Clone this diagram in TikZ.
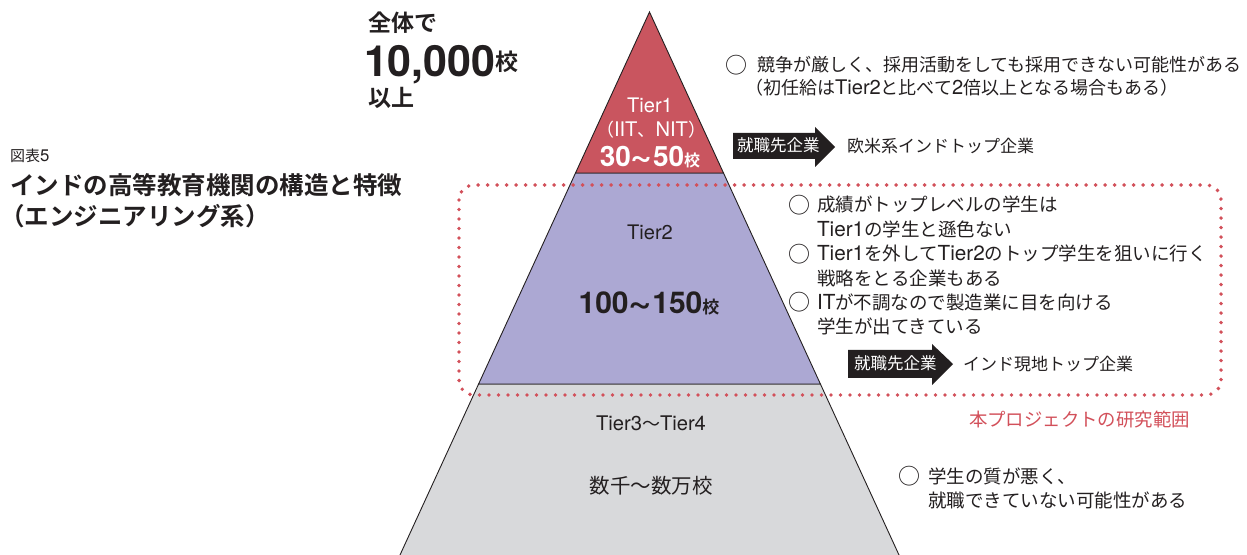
\documentclass[tikz,border=0pt]{standalone}
\usepackage{fontspec}
\usepackage{graphicx}
\setmainfont{Noto Sans CJK JP}[BoldFont={Noto Sans CJK JP Bold}]
\newfontfamily\lat{TeX Gyre Heros}[Scale=1.12]
\newcommand\fsz[1]{\fontsize{#1bp}{#1bp}\selectfont}
\newcommand\bigtilde{\raisebox{-0.02em}{\scalebox{1.35}[1.25]{\textasciitilde}}}
\definecolor{ink}{HTML}{231F20}
\definecolor{tierA}{HTML}{C9555F}
\definecolor{tierB}{HTML}{ACA8D3}
\definecolor{tierC}{HTML}{D8D9DB}
\definecolor{dotred}{HTML}{D2505A}
\begin{document}
\begin{tikzpicture}[x=1bp,y=-1bp,
 txt/.style={inner sep=0pt,outer sep=0pt,anchor=base west,text=ink},
 ctxt/.style={inner sep=0pt,outer sep=0pt,anchor=base,text=ink},
 tieredge/.style={draw=ink,line width=0.9bp,line join=miter},
 scopebox/.style={draw=dotred,line width=3.9bp,line cap=round,dash pattern=on 0pt off 9.5bp,rounded corners=15bp},
 badge/.style={fill=ink},
 badgetxt/.style={inner sep=0pt,outer sep=0pt,anchor=base west,text=white}]
\useasboundingbox (0,0) rectangle (1247,555);
% pyramid
\begin{scope}
\clip (0,0) rectangle (1247,555);
\filldraw[tieredge,fill=tierC] (478.6,384) -- (820.4,384) -- (903.6,565) -- (395.4,565) -- cycle;
\filldraw[tieredge,fill=tierB] (575.5,173) -- (723.5,173) -- (820.4,384) -- (478.6,384) -- cycle;
\filldraw[tieredge,fill=tierA] (649.5,12) -- (723.5,173) -- (575.5,173) -- cycle;
\end{scope}
% research scope
\draw[scopebox] (459,185) rectangle (1221,395);
% tier labels
\node[ctxt,text=white] (t1name) at (650,113) {\lat\fsz{17.9}Tier1};
\node[ctxt,text=white] (t1inst) at (651,137) {\fsz{18}（{\lat IIT}、{\lat NIT}）};
\node[ctxt,text=white] (t1count) at (650,167) {\lat\bfseries\fsz{25}30\bigtilde50{\normalfont\bfseries\fsz{16}校}};
\node[ctxt] (t2name) at (650,240) {\lat\fsz{17.9}Tier2};
\node[ctxt] (t2count) at (649,314) {\lat\bfseries\fsz{26.8}100\bigtilde150{\normalfont\bfseries\fsz{17}校}};
\node[ctxt] (t3name) at (651,430) {\fsz{18}{\lat Tier3}〜{\lat Tier4}};
\node[ctxt] (t3count) at (651,493) {\fsz{20.5}数千〜数万校};
% left texts
\node[txt] (allA) at (368,32) {\bfseries\fsz{23}全体で};
\node[txt] (allB) at (364,76.5) {\lat\bfseries\fsz{38.4}10,000\raisebox{6bp}{\normalfont\bfseries\fsz{23}校}};
\node[txt] (allC) at (368,107) {\bfseries\fsz{23}以上};
\node[txt] (figno) at (10,162) {\fsz{15}図表{\lat 5}};
\node[txt] (titleA) at (10,195) {\bfseries\fsz{24.5}インドの高等教育機関の構造と特徴};
\node[txt] (titleB) at (0,226) {\bfseries\fsz{24.5}（エンジニアリング系）};
% tier 1 notes
\node[txt] (b1mark) at (725,73.4) {\fsz{22}○};
\node[txt] (b1l1) at (757,71.7) {\fsz{18}競争が厳しく、採用活動をしても採用できない可能性がある};
\node[txt] (b1l2) at (745,94.7) {\fsz{18}（初任給は{\lat Tier2}と比べて{\lat 2}倍以上となる場合もある）};
\fill[badge] (733,133) -- (815,133) -- (815,127) -- (835,147) -- (815,167) -- (815,159) -- (733,159) -- cycle;
\node[badgetxt] (job1) at (737,152) {\fsz{16.5}就職先企業};
\node[txt] (dest1) at (847,153) {\fsz{17}欧米系インドトップ企業};
% tier 2 notes
\node[txt] (b2mark) at (788,213.4) {\fsz{22}○};
\node[txt] (b2l1) at (817,212) {\fsz{18.5}成績がトップレベルの学生は};
\node[txt] (b2l2) at (817,236.4) {\fsz{18.5}{\lat Tier1}の学生と遜色ない};
\node[txt] (b3mark) at (788,262.2) {\fsz{22}○};
\node[txt] (b3l1) at (817,260.8) {\fsz{18.5}{\lat Tier1}を外して{\lat Tier2}のトップ学生を狙いに行く};
\node[txt] (b3l2) at (817,285.2) {\fsz{18.5}戦略をとる企業もある};
\node[txt] (b4mark) at (788,311) {\fsz{22}○};
\node[txt] (b4l1) at (817,309.6) {\fsz{18.5}{\lat IT}が不調なので製造業に目を向ける};
\node[txt] (b4l2) at (817,334) {\fsz{18.5}学生が出てきている};
\fill[badge] (848,350) -- (932,350) -- (932,344) -- (953,364) -- (932,385) -- (932,378) -- (848,378) -- cycle;
\node[badgetxt] (job2) at (854,370) {\fsz{16.5}就職先企業};
\node[txt] (dest2) at (963,371) {\fsz{17}インド現地トップ企業};
\node[txt,text=dotred] (scope) at (969,426) {\fsz{18.4}本プロジェクトの研究範囲};
% tier 3 notes
\node[txt] (b5mark) at (898,484.4) {\fsz{22}○};
\node[txt] (b5l1) at (928,483) {\fsz{18.5}学生の質が悪く、};
\node[txt] (b5l2) at (928,507) {\fsz{18.5}就職できていない可能性がある};
\end{tikzpicture}
\end{document}
